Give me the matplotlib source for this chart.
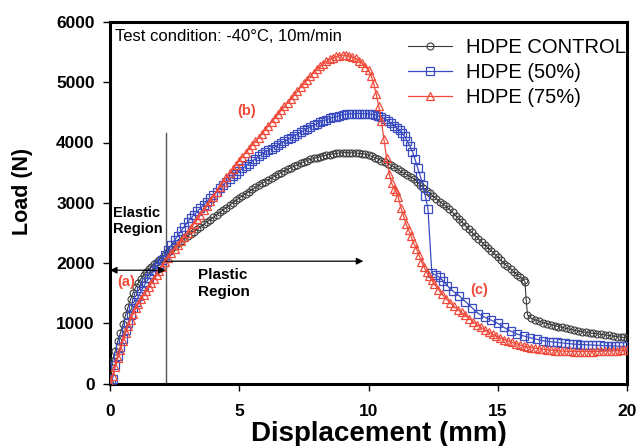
import matplotlib
matplotlib.use("Agg")
import matplotlib.pyplot as plt

plt.rcParams['font.family'] = ['Liberation Sans', 'DejaVu Sans']

# ---------------- data ----------------
# HDPE CONTROL
ctrl_x = [0.0, 0.1, 0.2, 0.3, 0.4, 0.5, 0.6, 0.7, 0.8, 0.9, 1.0, 1.1, 1.2, 1.3, 1.4, 1.5, 1.6, 1.7, 1.8, 1.9, 2.0,
          2.125, 2.25, 2.375, 2.5, 2.625, 2.75, 2.875, 3.0,
          3.125, 3.25, 3.375, 3.5, 3.625, 3.75, 3.875, 4.0,
          4.125, 4.25, 4.375, 4.5, 4.625, 4.75, 4.875, 5.0,
          5.125, 5.25, 5.375, 5.5, 5.625, 5.75, 5.875, 6.0,
          6.125, 6.25, 6.375, 6.5, 6.625, 6.75, 6.875, 7.0,
          7.125, 7.25, 7.375, 7.5, 7.625, 7.75, 7.875, 8.0,
          8.125, 8.25, 8.375, 8.5, 8.625, 8.75, 8.875, 9.0,
          9.125, 9.25, 9.375, 9.5, 9.625, 9.75, 9.875, 10.0,
          10.125, 10.25, 10.375, 10.5, 10.625, 10.75, 10.875, 11.0,
          11.125, 11.25, 11.375, 11.5, 11.625, 11.75, 11.875, 12.0,
          12.125, 12.25, 12.375, 12.5, 12.625, 12.75, 12.875, 13.0,
          13.125, 13.25, 13.375, 13.5, 13.625, 13.75, 13.875, 14.0,
          14.125, 14.25, 14.375, 14.5, 14.625, 14.75, 14.875, 15.0,
          15.125, 15.25, 15.375, 15.5, 15.625, 15.75, 15.875, 16.0,
          16.05, 16.1, 16.15, 16.3, 16.45, 16.6, 16.75, 16.9, 17.05, 17.2, 17.35, 17.5, 17.65, 17.8,
          17.95, 18.1, 18.25, 18.4, 18.55, 18.7, 18.85, 19.0, 19.15, 19.3, 19.45, 19.6, 19.75, 19.9, 20.0]
ctrl_y = [0, 380, 540, 700, 840, 980, 1130, 1270, 1400, 1510, 1600, 1675, 1740, 1800, 1850, 1895, 1940, 1980, 2020, 2055, 2090,
          2135, 2180, 2230, 2280, 2325, 2370, 2410, 2450,
          2485, 2520, 2560, 2600, 2640, 2680, 2720, 2760,
          2800, 2840, 2880, 2920, 2960, 3000, 3040, 3080,
          3115, 3150, 3185, 3220, 3255, 3290, 3320, 3350,
          3380, 3410, 3440, 3470, 3500, 3530, 3555, 3580,
          3605, 3630, 3655, 3680, 3700, 3720, 3735, 3750,
          3765, 3780, 3790, 3800, 3810, 3820, 3825, 3830,
          3832, 3830, 3828, 3825, 3820, 3815, 3805, 3790,
          3770, 3750, 3725, 3700, 3675, 3650, 3620, 3590,
          3555, 3520, 3490, 3460, 3430, 3400, 3350, 3300,
          3250, 3200, 3155, 3110, 3065, 3020, 2980, 2940,
          2890, 2840, 2785, 2730, 2675, 2620, 2565, 2510,
          2455, 2400, 2350, 2300, 2250, 2200, 2150, 2100,
          2045, 1990, 1945, 1900, 1850, 1800, 1760, 1720,
          1690, 1390, 1140, 1080, 1055, 1035, 1010, 995, 975, 960, 945, 930, 915, 900,
          885, 870, 860, 850, 840, 832, 825, 815, 806, 797, 788, 779, 770, 764, 760]

# HDPE (50%)
p50_x = [0.05, 0.1, 0.2, 0.3, 0.4, 0.5, 0.6, 0.7, 0.8, 0.9, 1.0, 1.1, 1.2, 1.3, 1.4, 1.5, 1.6, 1.7, 1.8, 1.9, 2.0,
         2.125, 2.25, 2.375, 2.5, 2.625, 2.75, 2.875, 3.0,
         3.125, 3.25, 3.375, 3.5, 3.625, 3.75, 3.875, 4.0,
         4.125, 4.25, 4.375, 4.5, 4.625, 4.75, 4.875, 5.0,
         5.125, 5.25, 5.375, 5.5, 5.625, 5.75, 5.875, 6.0,
         6.125, 6.25, 6.375, 6.5, 6.625, 6.75, 6.875, 7.0,
         7.125, 7.25, 7.375, 7.5, 7.625, 7.75, 7.875, 8.0,
         8.125, 8.25, 8.375, 8.5, 8.625, 8.75, 8.875, 9.0,
         9.125, 9.25, 9.375, 9.5, 9.625, 9.75, 9.875, 10.0,
         10.125, 10.25, 10.375, 10.5, 10.625, 10.75, 10.875, 11.0,
         11.1, 11.2, 11.3, 11.4, 11.5, 11.6, 11.7, 11.8, 11.9, 12.0, 12.1, 12.2, 12.3, 12.45,
         12.6, 12.75, 12.9, 13.05, 13.25, 13.5, 13.75, 14.0, 14.25, 14.5, 14.75, 15.0, 15.25,
         15.5, 15.75, 16.0, 16.25, 16.5, 16.75, 17.0,
         17.15, 17.3, 17.45, 17.6, 17.75, 17.9, 18.05, 18.2, 18.35, 18.5, 18.65, 18.8, 18.95,
         19.1, 19.25, 19.4, 19.55, 19.7, 19.85, 20.0]
p50_y = [0, 80, 300, 450, 600, 740, 880, 1010, 1130, 1245, 1350, 1445, 1530, 1610, 1680, 1745, 1810, 1870, 1930, 1990, 2050,
         2130, 2210, 2295, 2380, 2455, 2530, 2605, 2680,
         2740, 2800, 2855, 2910, 2965, 3020, 3075, 3130,
         3185, 3240, 3295, 3350, 3395, 3440, 3485, 3530,
         3570, 3610, 3650, 3690, 3730, 3770, 3805, 3840,
         3870, 3900, 3930, 3960, 3990, 4020, 4050, 4080,
         4110, 4140, 4170, 4200, 4230, 4260, 4285, 4310,
         4335, 4360, 4380, 4400, 4415, 4430, 4445, 4460,
         4468, 4475, 4478, 4480, 4481, 4480, 4478, 4475,
         4468, 4460, 4442, 4420, 4392, 4360, 4322, 4280,
         4240, 4200, 4150, 4100, 4020, 3940, 3850, 3720, 3580, 3450, 3290, 3110, 2900, 1830,
         1800, 1760, 1700, 1620, 1540, 1460, 1360, 1260, 1160, 1100, 1050, 1000, 930,
         870, 820, 790, 760, 735, 710, 695,
         688, 681, 674, 668, 662, 656, 650, 647, 644, 641, 638, 635, 632,
         629, 626, 623, 620, 618, 616, 615]

# HDPE (75%)
p75_x = [0.0, 0.1, 0.2, 0.3, 0.4, 0.5, 0.6, 0.7, 0.8, 0.9, 1.0, 1.1, 1.2, 1.3, 1.4, 1.5, 1.6, 1.7, 1.8, 1.9, 2.0,
         2.125, 2.25, 2.375, 2.5, 2.625, 2.75, 2.875, 3.0,
         3.125, 3.25, 3.375, 3.5, 3.625, 3.75, 3.875, 4.0,
         4.125, 4.25, 4.375, 4.5, 4.625, 4.75, 4.875, 5.0,
         5.125, 5.25, 5.375, 5.5, 5.625, 5.75, 5.875, 6.0,
         6.125, 6.25, 6.375, 6.5, 6.625, 6.75, 6.875, 7.0,
         7.125, 7.25, 7.375, 7.5, 7.625, 7.75, 7.875, 8.0,
         8.125, 8.25, 8.375, 8.5, 8.625, 8.75, 8.875, 9.0,
         9.125, 9.25, 9.375, 9.5, 9.625, 9.75, 9.875, 10.0,
         10.1, 10.2, 10.3, 10.4, 10.5, 10.6, 10.7, 10.8, 10.9, 11.0, 11.05, 11.15, 11.25, 11.35,
         11.45, 11.55, 11.65, 11.75, 11.85, 11.95, 12.05, 12.15, 12.25, 12.35, 12.45, 12.55,
         12.7, 12.85, 13.0, 13.15, 13.3, 13.45, 13.6, 13.75, 13.9, 14.05, 14.2, 14.35, 14.5,
         14.65, 14.8, 14.95, 15.1, 15.25, 15.4, 15.55, 15.7, 15.85, 16.0, 16.15, 16.3, 16.45,
         16.6, 16.75, 16.9, 17.05, 17.2, 17.35, 17.5, 17.65, 17.8, 17.95, 18.1, 18.25, 18.4,
         18.55, 18.7, 18.85, 19.0, 19.15, 19.3, 19.45, 19.6, 19.75, 19.9, 20.0]
p75_y = [0, 120, 280, 420, 560, 700, 830, 950, 1060, 1160, 1250, 1325, 1400, 1470, 1540, 1605, 1670, 1735, 1800, 1870, 1940,
         2015, 2090, 2160, 2230, 2295, 2360, 2430, 2500,
         2575, 2650, 2725, 2800, 2875, 2950, 3025, 3100,
         3180, 3260, 3340, 3420, 3490, 3560, 3630, 3700,
         3765, 3830, 3895, 3960, 4020, 4080, 4145, 4210,
         4275, 4340, 4405, 4470, 4535, 4600, 4660, 4720,
         4785, 4850, 4915, 4980, 5040, 5100, 5160, 5220,
         5265, 5310, 5345, 5380, 5405, 5430, 5440, 5450,
         5447, 5440, 5420, 5400, 5360, 5320, 5260, 5200,
         5110, 4980, 4800, 4600, 4350, 4050, 3740, 3480, 3320, 3230, 3200, 3100, 2920, 2790,
         2650, 2550, 2440, 2330, 2240, 2140, 2020, 1930, 1850, 1780, 1715, 1650,
         1560, 1480, 1405, 1340, 1280, 1225, 1180, 1130, 1075, 1025, 975, 930, 890,
         855, 815, 785, 755, 730, 705, 683, 660, 640, 620, 608, 596, 585,
         575, 565, 558, 552, 547, 542, 538, 535, 532, 530, 529, 528, 528,
         529, 530, 532, 535, 537, 540, 543, 547, 550, 553, 555]

series_labels = ['HDPE CONTROL', 'HDPE (50%)', 'HDPE (75%)']
x_ticks = [0, 5, 10, 15, 20]
y_ticks = [0, 1000, 2000, 3000, 4000, 5000, 6000]

elastic_limit = 2.15
plastic_arrow_end = 9.8

assert len(ctrl_x) == len(ctrl_y)
assert len(p50_x) == len(p50_y)
assert len(p75_x) == len(p75_y)

# ---------------- figure ----------------
fig = plt.figure(figsize=(6.39, 4.46), dpi=100)
ax = fig.add_axes([110 / 639, 1 - 383.5 / 446, 517 / 639, 361.5 / 446])

c_black = '#3a3a3a'
c_blue = '#3a4cc0'
c_red = '#f04a3a'

ax.plot(ctrl_x, ctrl_y, color=c_black, lw=0.8, marker='o', ms=5.0, mfc='none',
        mec=c_black, mew=0.8, label=series_labels[0], zorder=3)
ax.plot(p50_x, p50_y, color=c_blue, lw=0.9, marker='s', ms=5.4, mfc='none',
        mec=c_blue, mew=0.9, label=series_labels[1], zorder=4)
ax.plot(p75_x, p75_y, color=c_red, lw=0.9, marker='^', ms=5.8, mfc='none',
        mec=c_red, mew=0.9, label=series_labels[2], zorder=5)

ax.set_xlim(0, 20)
ax.set_ylim(0, 6000)
ax.set_xticks(x_ticks)
ax.set_yticks(y_ticks)
ax.tick_params(direction='out', length=5, width=1, labelsize=12.5)
ax.tick_params(axis='x', pad=10)
ax.tick_params(axis='y', pad=6)
for lab in ax.get_xticklabels() + ax.get_yticklabels():
    lab.set_fontweight('bold')
for sp in ax.spines.values():
    sp.set_linewidth(2.2)
    sp.set_color('black')

ax.set_xlabel('Displacement (mm)', fontsize=20, fontweight='bold')
ax.set_ylabel('Load (N)', fontsize=15.5, fontweight='bold')
ax.xaxis.set_label_coords(0.52, -0.105)
ax.yaxis.set_label_coords(-0.148, 0.53)

# region markers
ax.plot([elastic_limit, elastic_limit], [0, 4160], color='#555555', lw=1.0, zorder=2)
ax.annotate('', xy=(plastic_arrow_end, 2030), xytext=(elastic_limit, 2030),
            arrowprops=dict(arrowstyle='-|>', color='black', lw=0.9,
                            mutation_scale=10, shrinkA=0, shrinkB=0), zorder=6)
ax.annotate('', xy=(0, 1880), xytext=(elastic_limit, 1880),
            arrowprops=dict(arrowstyle='<|-|>', color='black', lw=0.9,
                            mutation_scale=10, shrinkA=0, shrinkB=0), zorder=6)

ax.text(0.12, 2700, 'Elastic\nRegion', fontsize=10.5, fontweight='bold', ha='left',
        va='center', linespacing=1.15, zorder=7)
ax.text(3.4, 1660, 'Plastic\nRegion', fontsize=11, fontweight='bold', ha='left',
        va='center', linespacing=1.2, zorder=7)

ax.text(0.62, 1680, '(a)', color=c_red, fontsize=10.5, fontweight='bold',
        ha='center', va='center', zorder=7)
ax.text(5.3, 4530, '(b)', color=c_red, fontsize=10.5, fontweight='bold',
        ha='center', va='center', zorder=7)
ax.text(14.3, 1555, '(c)', color=c_red, fontsize=10.5, fontweight='bold',
        ha='center', va='center', zorder=7)

ax.text(0.2, 5760, 'Test condition: -40\u00b0C, 10m/min', fontsize=12, ha='left',
        va='center', zorder=7)

leg = ax.legend(loc='upper left', bbox_to_anchor=(408 / 639, 1 - 38 / 446),
                bbox_transform=fig.transFigure, frameon=False, fontsize=14.5,
                numpoints=1, handlelength=2.2, handletextpad=0.7,
                labelspacing=0.3, borderpad=0, borderaxespad=0)

fig.savefig('out.png', dpi=100)
